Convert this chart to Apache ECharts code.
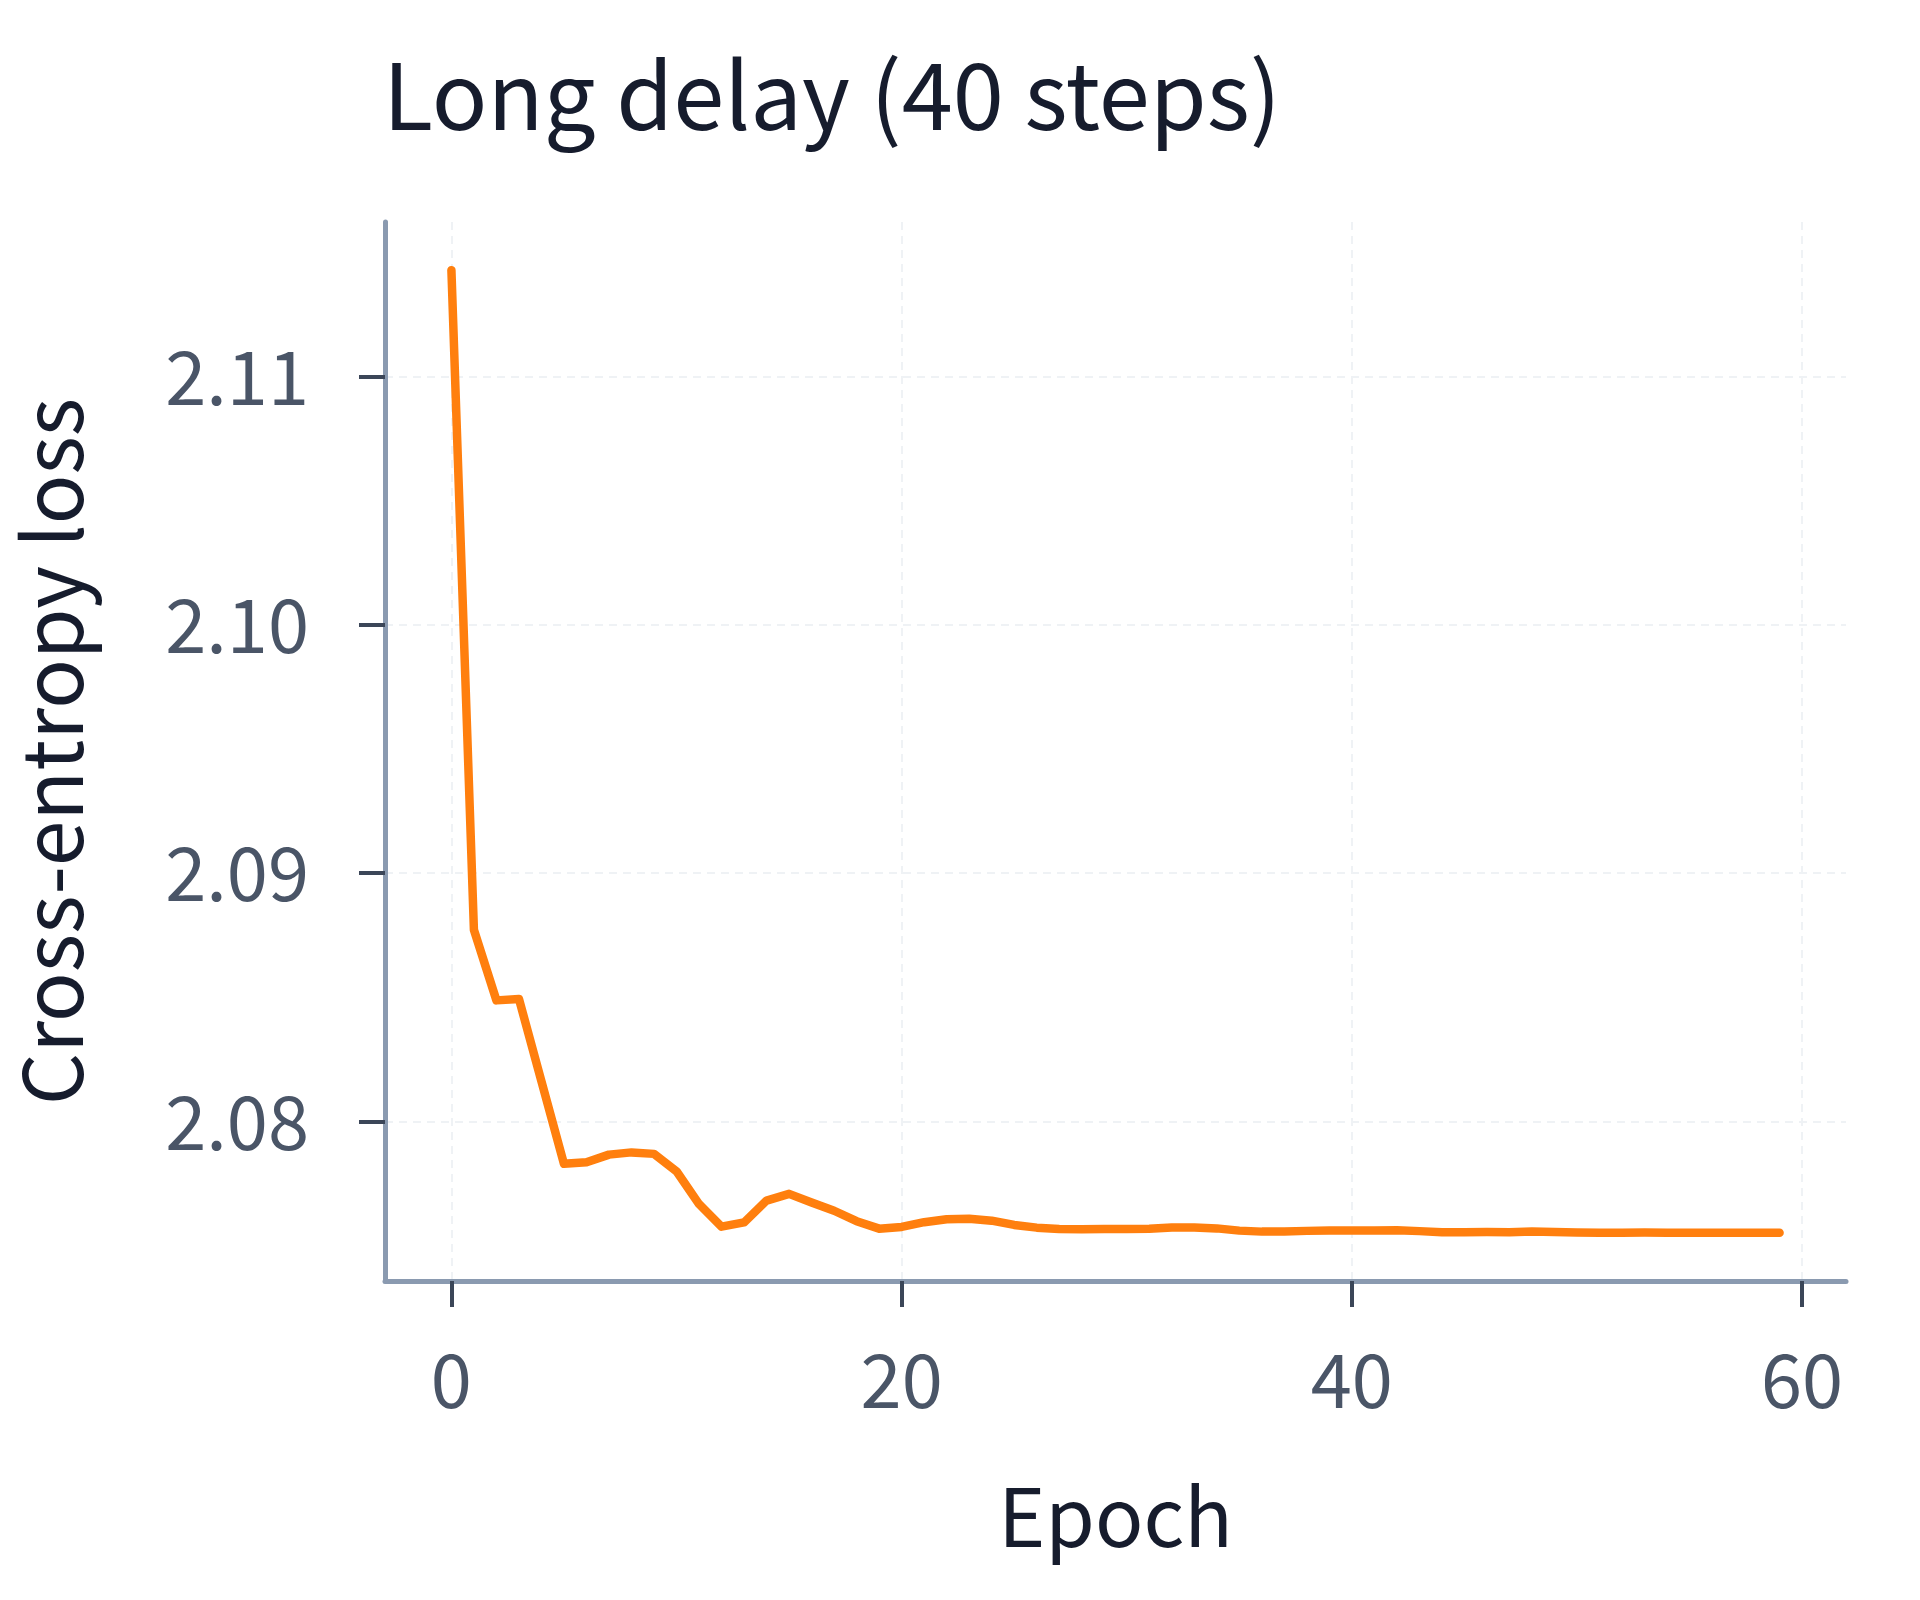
<!DOCTYPE html>
<html>
<head>
<meta charset="utf-8">
<script src="https://cdn.jsdelivr.net/npm/echarts@6/dist/echarts.min.js"></script>
<style>
  html, body { margin: 0; padding: 0; background: #ffffff; }
  #chart { width: 1920px; height: 1600px; }
</style>
</head>
<body>
<div id="chart"></div>
<script>
// Loss per epoch
const epochs = Array.from({ length: 60 }, (_, i) => i);
const loss = [
  2.11428, 2.08772, 2.08488, 2.08494, 2.08162, 2.07830, 2.07836, 2.07867, 2.07876, 2.07870,
  2.07800, 2.07668, 2.07577, 2.07594, 2.07682, 2.07709, 2.07674, 2.07641, 2.07599, 2.07569,
  2.07576, 2.07595, 2.07607, 2.07609, 2.07601, 2.07584, 2.07573, 2.07568, 2.07567, 2.07568,
  2.07568, 2.07569, 2.07574, 2.07574, 2.07570, 2.07561, 2.07557, 2.07557, 2.07560, 2.07562,
  2.07562, 2.07562, 2.07563, 2.07559, 2.07554, 2.07554, 2.07555, 2.07554, 2.07557, 2.07555,
  2.07553, 2.07552, 2.07552, 2.07553, 2.07552, 2.07552, 2.07552, 2.07552, 2.07552, 2.07552
];
const xTicks = [0, 20, 40, 60];
const yTicks = [2.08, 2.09, 2.10, 2.11];

const FONT = '"Noto Sans CJK KR", "Noto Sans", sans-serif';

// matplotlib-like 5% margins
const yLo = Math.min(...loss), yHi = Math.max(...loss);
const yPad = (yHi - yLo) * 0.05;
const xPad = (epochs[epochs.length - 1] - epochs[0]) * 0.05;

const gridLine = { show: true, lineStyle: { color: '#eff2f5', width: 2, type: [8, 6] } };
const spine = { show: true, onZero: false, lineStyle: { color: '#8a9ab0', width: 5 } };
const tick = { show: true, length: 26, lineStyle: { color: '#3b4658', width: 4 } };

const chart = echarts.init(document.getElementById('chart'));
chart.setOption({
  backgroundColor: '#ffffff',
  animation: false,
  title: {
    text: 'Long delay (40 steps)',
    left: 378,
    top: 44,
    textStyle: { fontFamily: FONT, fontSize: 92, fontWeight: 'normal', color: '#161c2d' }
  },
  grid: { left: 385, right: 74, top: 222, bottom: 319 },
  xAxis: {
    type: 'value',
    min: epochs[0] - xPad,
    max: epochs[epochs.length - 1] + xPad,
    name: 'Epoch',
    nameLocation: 'middle',
    nameGap: 196,
    nameTextStyle: { fontFamily: FONT, fontSize: 80, color: '#161c2d' },
    axisLine: spine,
    axisTick: Object.assign({ customValues: xTicks }, tick),
    axisLabel: {
      customValues: xTicks,
      margin: 62,
      fontFamily: FONT, fontSize: 74, color: '#4a5567'
    },
    splitLine: gridLine
  },
  yAxis: {
    type: 'value',
    min: yLo - yPad,
    max: yHi + yPad,
    name: 'Cross-entropy loss',
    nameLocation: 'middle',
    nameGap: 292,
    nameTextStyle: { fontFamily: FONT, fontSize: 82, color: '#161c2d' },
    axisLine: spine,
    axisTick: Object.assign({ customValues: yTicks }, tick),
    axisLabel: {
      customValues: yTicks,
      margin: 76,
      formatter: v => v.toFixed(2),
      fontFamily: FONT, fontSize: 74, color: '#4a5567'
    },
    splitLine: gridLine
  },
  series: [{
    type: 'line',
    data: epochs.map((e, i) => [e, loss[i]]),
    showSymbol: false,
    lineStyle: { color: '#ff7f0e', width: 8.5, cap: 'round', join: 'round' }
  }]
});
</script>
</body>
</html>
